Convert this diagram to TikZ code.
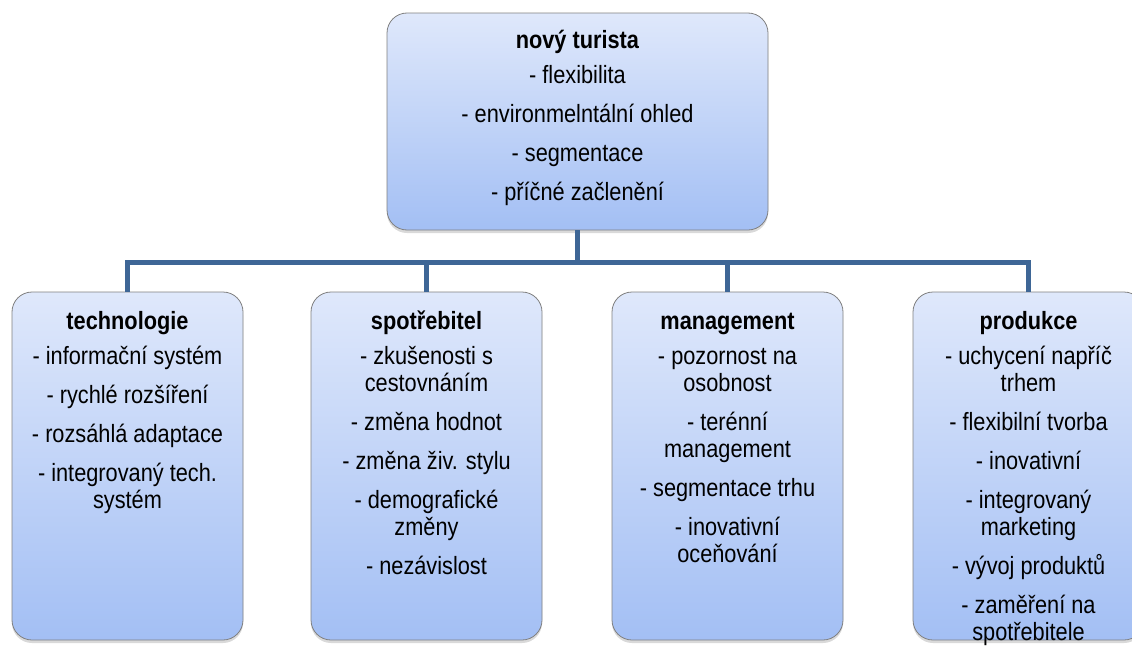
\documentclass[tikz,border=0pt]{standalone}
\usepackage{fontspec}
\setmainfont{Liberation Sans}[FakeStretch=0.87]
\usetikzlibrary{positioning,shadows}
\definecolor{boxtop}{HTML}{DFE8FB}
\definecolor{boxbot}{HTML}{A3BFF4}
\definecolor{boxline}{HTML}{808080}
\definecolor{linkblue}{HTML}{3E6696}
\newcommand{\firstline}{\rule{0pt}{20pt}}

\begin{document}
\begin{tikzpicture}[
  x=1pt, y=-1pt,
  font=\fontsize{25}{27}\selectfont,
  card/.style={draw=boxline, line width=0.8pt, rounded corners=20pt, top color=boxtop, bottom color=boxbot,
    minimum width=231pt, minimum height=348pt,
    drop shadow={shadow xshift=0pt, shadow yshift=-3pt, opacity=0.3}},
  txt/.style={align=center, inner sep=0pt, anchor=north},
  link/.style={draw=linkblue, line width=5pt}
]
\useasboundingbox (0,0) rectangle (1132,645);

% top box
\node[card, minimum width=381pt, minimum height=217pt] (tourist) at (577.5,121.5) {};
\node[txt, below=16pt of tourist.north] (touristtxt) {\firstline\textbf{nový turista}\\[8pt]
  - flexibilita\\[12pt] - environmelntální ohled\\[12pt] - segmentace\\[12pt] - příčné začlenění};

% lower boxes
\node[card] (tech) at (127.5,466) {};
\node[card] (cons) at (426.5,466) {};
\node[card] (mgmt) at (727.5,466) {};
\node[card] (prod) at (1028.5,466) {};

\node[txt, below=18pt of tech.north] (techtxt) {\firstline\textbf{technologie}\\[8pt]
  - informační systém\\[12pt] - rychlé rozšíření\\[12pt] - rozsáhlá adaptace\\[12pt]
  - integrovaný tech.\\ systém};
\node[txt, below=18pt of cons.north] (constxt) {\firstline\textbf{spotřebitel}\\[8pt]
  - zkušenosti s\\ cestovnáním\\[12pt] - změna hodnot\\[12pt] - změna živ. stylu\\[12pt]
  - demografické\\ změny\\[12pt] - nezávislost};
\node[txt, below=18pt of mgmt.north] (mgmttxt) {\firstline\textbf{management}\\[8pt]
  - pozornost na\\ osobnost\\[12pt] - terénní\\ management\\[12pt] - segmentace trhu\\[12pt]
  - inovativní\\ oceňování};
\node[txt, below=18pt of prod.north] (prodtxt) {\firstline\textbf{produkce}\\[8pt]
  - uchycení napříč\\ trhem\\[12pt] - flexibilní tvorba\\[12pt] - inovativní\\[12pt]
  - integrovaný\\ marketing\\[12pt] - vývoj produktů\\[12pt] - zaměření na\\ spotřebitele};

% connectors
\coordinate (hub) at (577.5,262);
\foreach \b in {tech,cons,mgmt,prod}
  \draw[link] (tourist.south) -- (hub) -| (\b.north);
\end{tikzpicture}
\end{document}
